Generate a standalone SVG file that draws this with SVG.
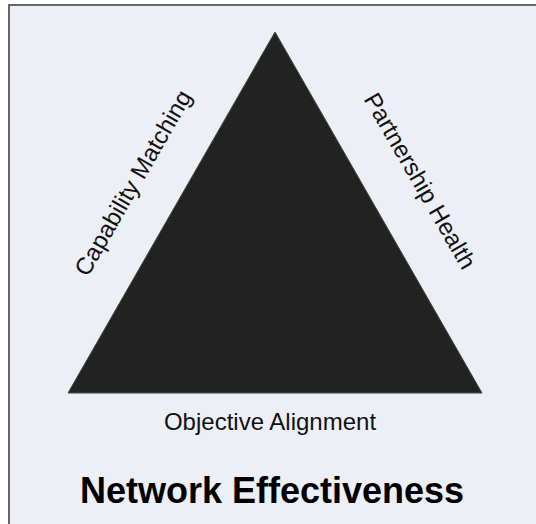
<svg xmlns="http://www.w3.org/2000/svg" width="536" height="524" viewBox="0 0 536 524">
  <style>
    .lbl { font-family: "Liberation Sans", Arial, sans-serif; font-size: 24px; fill: #111; text-anchor: middle; }
    .title { font-family: "Liberation Sans", Arial, sans-serif; font-size: 36px; font-weight: bold; fill: #000; text-anchor: middle; }
  </style>
  <rect x="0" y="0" width="536" height="524" fill="#ffffff"/>
  <rect id="frame" x="9" y="5" width="560" height="560" fill="#eceff5" stroke="#666" stroke-width="2"/>
  <g id="connectors"/>
  <g id="triangle">
    <polygon points="275,32 68,393 482,393" fill="#222" stroke="#444" stroke-width="1"/>
  </g>
  <g id="capability-matching">
    <text class="lbl" x="140" y="187" transform="rotate(-60 140 187)">Capability Matching</text>
  </g>
  <g id="partnership-health">
    <text class="lbl" x="413" y="185" transform="rotate(60 413 185)">Partnership Health</text>
  </g>
  <g id="objective-alignment">
    <text class="lbl" x="270" y="430">Objective Alignment</text>
  </g>
  <g id="network-effectiveness">
    <text class="title" x="272" y="503">Network Effectiveness</text>
  </g>
</svg>
